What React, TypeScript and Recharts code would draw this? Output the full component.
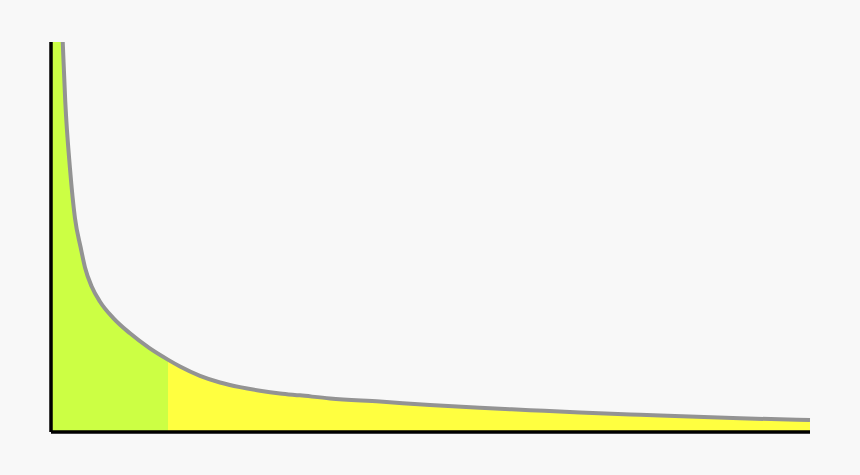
import React from 'react';
import { AreaChart, Area, XAxis, YAxis } from 'recharts';

// rank position along the tail (0-100) and the popularity
const ranks = [0, 1.0, 1.54, 1.88, 2.5, 3.16, 3.91, 4.48, 5.36, 6.46, 8.21, 10.41, 12.98, 15.45, 17.0, 19.63, 22.27, 24.9, 27.54, 30.17, 32.81, 36.76, 43.35, 49.93, 56.52, 63.11, 69.7, 77.6, 90.78, 100];
const popularity = [220, 125, 100.3, 84.7, 67.6, 54.8, 47.3, 42.2, 37.3, 33.4, 29.2, 25.3, 21.5, 18.5, 16.8, 14.4, 12.7, 11.5, 10.6, 9.9, 9.4, 8.6, 7.8, 6.9, 6.2, 5.6, 5.0, 4.4, 3.5, 3.1];

// where the "head" ends and the long tail begins
const headEnd = 15.42;

const data = ranks.map((x, i) => ({ x, value: popularity[i] }));

export default function App() {
  const split = `${headEnd}%`;
  return (
    <div style={{ position: 'absolute', left: 0, top: 0, width: 860, height: 475, background: '#f8f8f8' }}>
      <AreaChart width={860} height={475} data={data} margin={{ top: 42, right: 50, bottom: 42, left: 50 }}>
        <defs>
          <linearGradient id="headTail" x1="0" y1="0" x2="1" y2="0">
            <stop offset={split} stopColor="#ccff44" />
            <stop offset={split} stopColor="#ffff40" />
          </linearGradient>
        </defs>
        <XAxis
          dataKey="x"
          type="number"
          domain={[0, 100]}
          height={1}
          tick={false}
          tickLine={false}
          axisLine={{ stroke: '#000', strokeWidth: 3.5 }}
        />
        <YAxis
          type="number"
          domain={[0, 100]}
          allowDataOverflow
          width={1}
          tick={false}
          tickLine={false}
          axisLine={{ stroke: '#000', strokeWidth: 3.5 }}
        />
        <Area
          type="monotone"
          dataKey="value"
          stroke="#939393"
          strokeWidth={4}
          fill="url(#headTail)"
          fillOpacity={1}
          isAnimationActive={false}
        />
      </AreaChart>
    </div>
  );
}
